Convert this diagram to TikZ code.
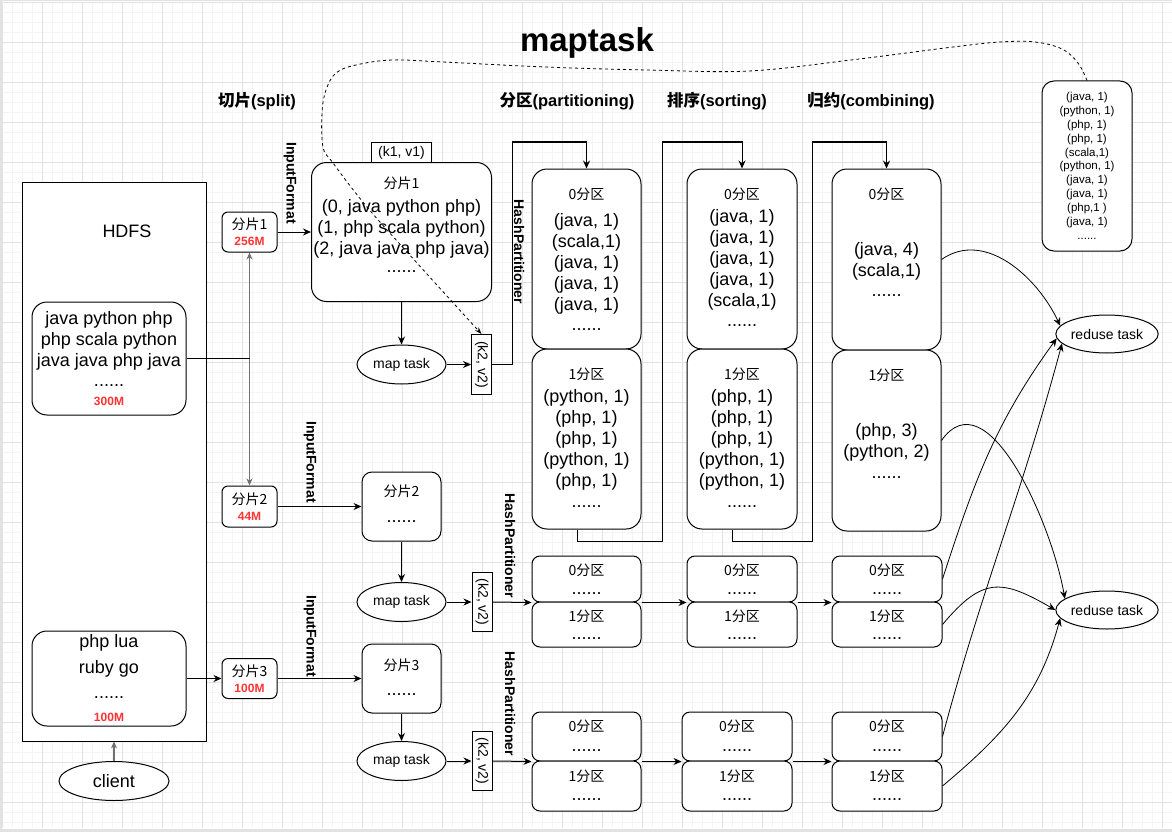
\documentclass[tikz,border=0pt]{standalone}
\usepackage{fontspec}
\setmainfont{Liberation Sans}
\newfontfamily\cjk{Noto Sans CJK SC}
\usetikzlibrary{shapes.geometric,arrows.meta}
\definecolor{redc}{HTML}{FF3333}
\definecolor{gmin}{HTML}{F4F4F4}
\definecolor{gmaj}{HTML}{E2E2E2}
\definecolor{edgegray}{HTML}{707070}
\newcommand\zh[1]{{\cjk #1}}
\tikzset{
 ln/.style={line width=1pt, draw=black},
 rbox/.style={draw, line width=1pt, fill=white, inner sep=0pt, rounded corners=#1},
 rbox/.default=15pt,
 sq/.style={draw, line width=1pt, fill=white, inner sep=0pt},
 ell/.style={ellipse, draw, line width=1pt, fill=white, inner sep=0pt},
 arr/.style={line width=1pt, -{Stealth[length=8pt,width=7pt]}},
 garr/.style={line width=1.6pt, draw=edgegray, -{Stealth[length=7pt,width=6pt]}},
 big/.style={font=\fontsize{18}{21}\selectfont, inner sep=0pt, align=center},
 sml/.style={font=\fontsize{14}{16}\selectfont, inner sep=0pt},
 tny/.style={font=\fontsize{11.5}{13.8}\selectfont, inner sep=0pt, align=center},
 sz/.style={font=\bfseries\fontsize{12}{14}\selectfont, text=redc, inner sep=0pt},
 head/.style={font=\bfseries\fontsize{16.5}{20}\selectfont, inner sep=0pt},
 vlab/.style={font=\bfseries\fontsize{14}{16}\selectfont, rotate=-90, inner sep=0pt},
}
\begin{document}
\begin{tikzpicture}[x=1pt,y=1pt]
\useasboundingbox (0,0) rectangle (1172,-832);
% background and grid
\fill[gmaj] (0,0) rectangle (1172,-832);
\fill[white] (1.5,-1.5) rectangle (1172,-828.5);
\foreach \x in {2,12,...,1172} \draw[gmin, line width=0.7pt] (\x,-2) -- (\x,-828);
\foreach \y in {2,12,...,822} \draw[gmin, line width=0.7pt] (2,-\y) -- (1172,-\y);
\foreach \x in {2,42,...,1162} \draw[gmaj, line width=0.8pt] (\x,-2) -- (\x,-828);
\foreach \y in {2,42,...,802} \draw[gmaj, line width=0.8pt] (2,-\y) -- (1172,-\y);

% titles
\node[font=\bfseries\fontsize{33}{36}\selectfont, inner sep=0pt] (title) at (587,-43) {maptask};
\node[head] (h1) at (257,-101) {\zh{切片}(split)};
\node[head] (h2) at (567,-101) {\zh{分区}(partitioning)};
\node[head] (h3) at (717,-101) {\zh{排序}(sorting)};
\node[head] (h4) at (871,-101) {\zh{归约}(combining)};

% HDFS
\node[sq, minimum width=184pt, minimum height=559pt] (hdfs) at (114,-461.5) {};
\node[big] (thdfs) at (127,-231) {HDFS};
\node[rbox, minimum width=154pt, minimum height=113pt] (hb1) at (109,-358.5) {};
\node[big] (thb1) at (109,-341) {java python php\\php scala python\\java java php java};
\node[big] (dhb1) at (109,-386) {......};
\node[sz] (zhb1) at (109,-401) {300M};
\node[rbox, minimum width=154pt, minimum height=95pt] (hb2) at (109,-678.5) {};
\node[big] (thb2a) at (109,-643) {php lua};
\node[big] (thb2b) at (109,-669) {ruby go};
\node[big] (dhb2) at (109,-698) {......};
\node[sz] (zhb2) at (109,-717.5) {100M};
\node[ell, minimum width=110pt, minimum height=39pt, font=\fontsize{18}{21}\selectfont] (client) at (114,-781) {client};

% splits
\node[rbox=6pt, minimum width=55pt, minimum height=40pt] (s1) at (249.5,-232) {};
\node[sml] at (249.5,-224.3) {\zh{分片1}};
\node[sz] at (249.5,-241) {256M};
\node[rbox=6pt, minimum width=55pt, minimum height=41pt] (s2) at (249.5,-506.5) {};
\node[sml] at (249.5,-499.3) {\zh{分片2}};
\node[sz] at (249.5,-516) {44M};
\node[rbox=6pt, minimum width=55pt, minimum height=40pt] (s3) at (249.5,-678.5) {};
\node[sml] at (249.5,-671.5) {\zh{分片3}};
\node[sz] at (249.5,-688) {100M};

\node[vlab] (if1) at (290,-183) {InputFormat};
\node[vlab] (if2) at (310,-462) {InputFormat};
\node[vlab] (if3) at (310,-636) {InputFormat};

% split contents
\node[sq, minimum width=60pt, minimum height=20pt, sml] (kv1) at (401.5,-152.5) {(k1, v1)};
\node[rbox, minimum width=180pt, minimum height=139pt] (b1) at (401.5,-232) {};
\node[sml] at (401.5,-183) {\zh{分片1}};
\node[big] at (401.5,-229) {(0, java python php)\\(1, php scala python)\\(2, java java php java)};
\node[big] at (401.5,-272) {......};
\node[rbox=10pt, minimum width=79pt, minimum height=69pt] (b2) at (401.5,-506.5) {};
\node[sml] at (401.5,-491.7) {\zh{分片2}};
\node[big] at (401.5,-521.7) {......};
\node[rbox=10pt, minimum width=79pt, minimum height=69pt] (b3) at (401.5,-678.5) {};
\node[sml] at (401.5,-665) {\zh{分片3}};
\node[big] at (401.5,-695) {......};

\node[ell, minimum width=89pt, minimum height=39pt, sml] (m1) at (401.5,-364.5) {map task};
\node[ell, minimum width=89pt, minimum height=39pt, sml] (m2) at (401.5,-602) {map task};
\node[ell, minimum width=89pt, minimum height=39pt, sml] (m3) at (401.5,-761) {map task};

\node[sq, minimum width=20pt, minimum height=60pt] (k2a) at (481.5,-364.5) {};
\node[sml, rotate=-90] at (k2a) {(k2, v2)};
\node[sq, minimum width=20pt, minimum height=59pt] (k2b) at (482,-602) {};
\node[sml, rotate=-90] at (k2b) {(k2, v2)};
\node[sq, minimum width=20pt, minimum height=59pt] (k2c) at (482,-761) {};
\node[sml, rotate=-90] at (k2c) {(k2, v2)};

\node[vlab] (hp1) at (519,-252) {HashPartitioner};
\node[vlab] (hp2) at (510,-546) {HashPartitioner};
\node[vlab] (hp3) at (510,-704) {HashPartitioner};

% partitions row 1
\node[rbox, minimum width=109pt, minimum height=180pt] (P1a) at (586.5,-259) {};
\node[rbox, minimum width=109pt, minimum height=180pt] (P1b) at (586.5,-439) {};
\node[rbox, minimum width=110pt, minimum height=180pt] (P2a) at (742,-259) {};
\node[rbox, minimum width=110pt, minimum height=180pt] (P2b) at (742,-439) {};
\node[rbox, minimum width=109pt, minimum height=181pt] (P3a) at (886.5,-259.5) {};
\node[rbox, minimum width=109pt, minimum height=181pt] (P3b) at (886.5,-440.5) {};

\node[sml] at (586.5,-194) {\zh{0分区}};
\node[big] at (586.5,-263.5) {(java, 1)\\(scala,1)\\(java, 1)\\(java, 1)\\(java, 1)};
\node[big] at (586.5,-330) {......};
\node[sml] at (586.5,-374) {\zh{1分区}};
\node[big] at (586.5,-440) {(python, 1)\\(php, 1)\\(php, 1)\\(python, 1)\\(php, 1)};
\node[big] at (586.5,-507) {......};

\node[sml] at (742,-194) {\zh{0分区}};
\node[big] at (742,-259.5) {(java, 1)\\(java, 1)\\(java, 1)\\(java, 1)\\(scala,1)};
\node[big] at (742,-326) {......};
\node[sml] at (742,-374) {\zh{1分区}};
\node[big] at (742,-440) {(php, 1)\\(php, 1)\\(php, 1)\\(python, 1)\\(python, 1)};
\node[big] at (742,-507) {......};

\node[sml] at (886.5,-194) {\zh{0分区}};
\node[big] at (886.5,-261) {(java, 4)\\(scala,1)};
\node[big] at (886.5,-296) {......};
\node[sml] at (886.5,-375) {\zh{1分区}};
\node[big] at (886.5,-442) {(php, 3)\\(python, 2)};
\node[big] at (886.5,-478) {......};

% partitions row 2
\node[rbox=8pt, minimum width=109pt, minimum height=46pt] (Q1a) at (586.5,-579) {};
\node[rbox=8pt, minimum width=109pt, minimum height=45pt] (Q1b) at (586.5,-624.5) {};
\node[rbox=8pt, minimum width=110pt, minimum height=46pt] (Q2a) at (742,-579) {};
\node[rbox=8pt, minimum width=110pt, minimum height=45pt] (Q2b) at (742,-624.5) {};
\node[rbox=8pt, minimum width=110pt, minimum height=46pt] (Q3a) at (887,-579) {};
\node[rbox=8pt, minimum width=110pt, minimum height=45pt] (Q3b) at (887,-624.5) {};
\foreach \cx in {586.5,742,887}{
  \node[sml] at (\cx,-570.7) {\zh{0分区}};
  \node[big] at (\cx,-593.3) {......};
  \node[sml] at (\cx,-616.7) {\zh{1分区}};
  \node[big] at (\cx,-639) {......};
}

% partitions row 3
\node[rbox=8pt, minimum width=109pt, minimum height=49pt] (R1a) at (586.5,-736.5) {};
\node[rbox=8pt, minimum width=109pt, minimum height=50pt] (R1b) at (586.5,-786) {};
\node[rbox=8pt, minimum width=110pt, minimum height=49pt] (R2a) at (737,-736.5) {};
\node[rbox=8pt, minimum width=110pt, minimum height=50pt] (R2b) at (737,-786) {};
\node[rbox=8pt, minimum width=110pt, minimum height=49pt] (R3a) at (887,-736.5) {};
\node[rbox=8pt, minimum width=110pt, minimum height=50pt] (R3b) at (887,-786) {};
\foreach \cx in {586.5,737,887}{
  \node[sml] at (\cx,-726) {\zh{0分区}};
  \node[big] at (\cx,-750.7) {......};
  \node[sml] at (\cx,-776) {\zh{1分区}};
  \node[big] at (\cx,-800) {......};
}

% reduce and result
\node[ell, minimum width=90pt, minimum height=38pt, sml] (red1) at (1107,-334) {reduse task};
\node[ell, minimum width=90pt, minimum height=38pt, sml] (red2) at (1107,-610) {reduse task};
\node[rbox=12pt, minimum width=90pt, minimum height=170pt] (res) at (1087,-166) {};
\node[tny] at (1087,-160) {(java, 1)\\(python, 1)\\(php, 1)\\(php, 1)\\(scala,1)\\(python, 1)\\(java, 1)\\(java, 1)\\(php,1 )\\(java, 1)};
\node[tny] at (1087,-239) {......};

% connectors left
\draw[garr] (client.north) -- (hdfs.south);
\coordinate (j1) at (249.5,-358.5);
\draw[garr] (j1) -- (s1.south);
\draw[garr] (j1) -- (s2.north);
\draw[ln] (hb1.east) -- (j1);
\draw[arr] (hb2.east) -- (s3.west);
\draw[arr] (s1.east) -- (b1.west);
\draw[arr] (s2.east) -- (b2.west);
\draw[arr] (s3.east) -- (b3.west);
\draw[arr] (b1.south) -- (m1.north);
\draw[arr] (b2.south) -- (m2.north);
\draw[arr] (b3.south) -- (m3.north);
\draw[arr] (m1.east) -- (k2a.west);
\draw[arr] (m2.east) -- (k2b.west);
\draw[arr] (m3.east) -- (k2c.west);

% partition connectors
\coordinate (c1) at (512,-142);
\draw[arr] (k2a.east) -| (c1) -| (P1a.north);
\coordinate (c2a) at (662,-541);
\coordinate (c2b) at (662,-142);
\draw[arr] ([xshift=-9.5pt]P1b.south) |- (c2a) -- (c2b) -| (P2a.north);
\coordinate (c3a) at (812,-541);
\coordinate (c3b) at (812,-142);
\draw[arr] ([xshift=-10pt]P2b.south) |- (c3a) -- (c3b) -| (P3a.north);

\draw[arr] (k2b.east) -- (Q1a.south west);
\draw[arr] (Q1a.south east) -- (Q2a.south west);
\draw[arr] (Q2a.south east) -- (Q3a.south west);
\draw[arr] (k2c.east) -- (R1a.south west);
\draw[arr] (R1a.south east) -- (R2a.south west);
\draw[arr] (R2a.south east) -- (R3a.south west);

% to reducers
\draw[arr, line width=0.8pt] (P3a.east) to[out=35,in=115] (red1.170);
\draw[arr, line width=0.8pt] (P3b.east) to[out=55,in=100] (red2.165);
\draw[arr, line width=0.8pt] (Q3a.east) to[out=72,in=-126] (red1.185);
\draw[arr, line width=0.8pt] (Q3b.east) to[out=50,in=150,looseness=1.4] (red2.180);
\draw[arr, line width=0.8pt] (R3a.east) to[out=75,in=-105] (red1.192);
\draw[arr, line width=0.8pt] (R3b.east) to[out=40,in=-105] (red2.190);

% dashed curve
\draw[line width=0.8pt, dash pattern=on 3pt off 3pt, -{Stealth[length=7pt,width=5pt]}]
  plot[smooth, tension=0.6] coordinates {(res.north) (1078,-63) (1062,-49) (1035,-42) (1000,-42) (953,-47) (851,-60) (749,-71) (647,-70) (545,-67) (443,-62) (392,-60) (356,-65) (336,-73) (326,-90) (322,-113) (323,-147) (333,-163) (367,-207) (417,-263) (k2a.north)};
\end{tikzpicture}
\end{document}
